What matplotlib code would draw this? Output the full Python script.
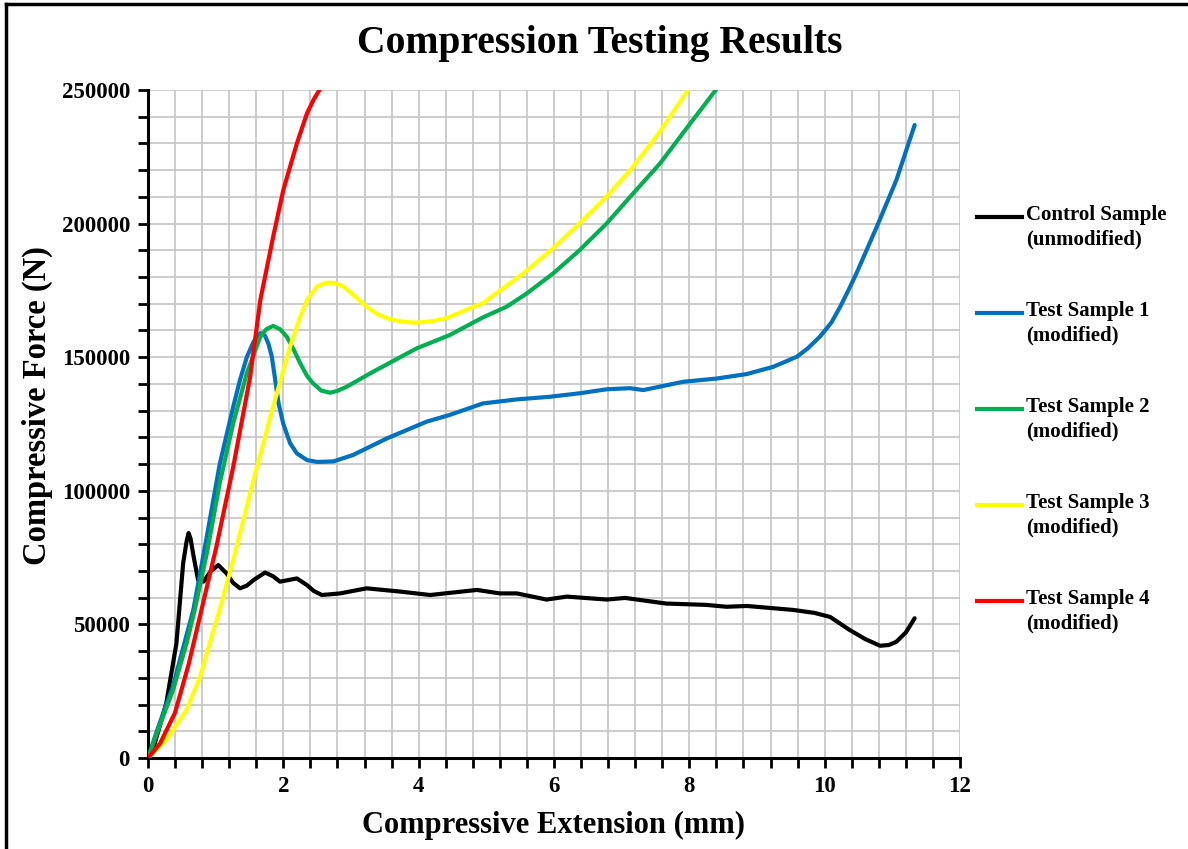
import numpy as np
import matplotlib
matplotlib.use("Agg")
from matplotlib import pyplot as plt
from matplotlib.lines import Line2D
from matplotlib.ticker import MultipleLocator

plt.rcParams['font.family'] = ['Liberation Serif', 'DejaVu Serif']
plt.rcParams['font.weight'] = 'bold'

control_x = [0, 0.1, 0.27, 0.42, 0.52, 0.57, 0.6, 0.63, 0.67, 0.74, 0.82, 0.93, 1.04, 1.16,
             1.26, 1.36, 1.46, 1.56, 1.73, 1.85, 1.95, 2.2, 2.35, 2.45, 2.57, 2.84, 3.23,
             3.72, 4.17, 4.86, 5.2, 5.45, 5.89, 6.19, 6.78, 7.05, 7.66, 8.25, 8.55, 8.85,
             9.54, 9.85, 10.08, 10.37, 10.6, 10.82, 10.95, 11.06, 11.2, 11.33]
control_y = [0, 5.5, 20.5, 42.9, 73, 81, 84.2, 82, 76, 66.6, 66, 70, 72.2, 69.1,
             65.5, 63.5, 64.5, 66.6, 69.4, 68, 66, 67.2, 64.7, 62.5, 61, 61.6, 63.5,
             62.3, 61, 62.9, 61.6, 61.6, 59.3, 60.4, 59.3, 59.9, 57.8, 57.3, 56.6, 56.9,
             55.4, 54.3, 52.8, 47.9, 44.5, 42, 42.3, 43.5, 47, 52.3]

s1_x = [0, 0.13, 0.37, 0.57, 0.67, 0.87, 1.06, 1.26, 1.36, 1.46, 1.56, 1.66, 1.73, 1.78,
        1.83, 1.88, 1.93, 2.0, 2.1, 2.2, 2.35, 2.5, 2.74, 3.03, 3.53, 4.12, 4.46, 4.95,
        5.45, 5.94, 6.38, 6.78, 7.12, 7.32, 7.91, 8.4, 8.85, 9.24, 9.59, 9.75, 9.93, 10.1,
        10.23, 10.35, 10.47, 10.77, 11.06, 11.33]
s1_y = [0, 10, 27, 46, 55.4, 83, 110, 131.5, 141.5, 150, 155.8, 159, 158, 155,
        150.2, 141.5, 132.7, 125, 117.8, 114, 111.5, 110.8, 111, 113.4, 119.6, 125.9, 128.4, 132.7,
        134.2, 135.2, 136.5, 138, 138.4, 137.7, 140.8, 142, 143.7, 146.4, 150.2, 153.3, 157.7, 163,
        168.9, 175, 181.4, 198.8, 216.3, 236.9]

s2_x = [0, 0.13, 0.37, 0.57, 0.69, 0.87, 1.06, 1.26, 1.46, 1.66, 1.75, 1.85, 1.95, 2.05,
        2.15, 2.25, 2.35, 2.44, 2.56, 2.69, 2.8, 2.94, 3.33, 3.97, 4.46, 4.95, 5.3, 5.6,
        5.99, 6.38, 6.78, 7.17, 7.57, 7.96, 8.4]
s2_y = [0, 9.2, 25.4, 42.9, 55.4, 76.6, 102.8, 125.3, 144, 157.7, 160.5, 161.7, 160.5, 157.7,
        153, 147.7, 143, 140.2, 137.5, 136.7, 137.4, 139, 144.6, 153.3, 158.3, 164.9, 168.9, 173.9,
        181.4, 190.1, 200.1, 211.3, 222.6, 235.7, 250.3]

s3_x = [0, 0.27, 0.57, 0.77, 0.97, 1.06, 1.26, 1.56, 1.85, 2.1, 2.25, 2.35, 2.5, 2.64,
        2.76, 2.89, 3.05, 3.23, 3.4, 3.58, 3.78, 3.97, 4.2, 4.41, 4.76, 4.95, 5.55, 5.99,
        6.38, 6.78, 7.17, 7.57, 7.98]
s3_y = [0, 6.7, 18, 30.4, 47.9, 55.4, 74.1, 104, 131.5, 154, 165, 171.4, 176.5, 177.9,
        177.8, 176.4, 173, 168.9, 166, 164.2, 163.2, 162.9, 163.5, 164.6, 168.3, 170.2, 181.4, 190.8,
        200.1, 210.1, 221.3, 234.5, 250]

s4_x = [0, 0.18, 0.4, 0.6, 0.79, 1.01, 1.26, 1.51, 1.66, 1.85, 2.0, 2.2, 2.35, 2.45, 2.54]
s4_y = [0, 5.5, 17, 35, 55.4, 79, 109, 142.7, 171.4, 195.1, 212.6, 230, 241.3, 246.5, 250.3]

labels = ["Control Sample\n(unmodified)", "Test Sample 1\n(modified)", "Test Sample 2\n(modified)",
          "Test Sample 3\n(modified)", "Test Sample 4\n(modified)"]
colors = ["black", "#0070C0", "#00B050", "#FFFF00", "#FF0000"]

W, H = 1188, 849
fig = plt.figure(figsize=(W / 100, H / 100), dpi=100)
ax = fig.add_axes([148 / W, 1 - 758 / H, 812 / W, 668 / H])

series = [(control_x, control_y), (s1_x, s1_y), (s2_x, s2_y), (s3_x, s3_y), (s4_x, s4_y)]
for (xs, ys), c in zip(series, colors):
    ax.plot(xs, np.array(ys) * 1000, color=c, lw=3, solid_joinstyle='round',
            solid_capstyle='round', zorder=3)

ax.set_xlim(0, 12)
ax.set_ylim(0, 250000)
ax.xaxis.set_major_locator(MultipleLocator(2))
ax.xaxis.set_minor_locator(MultipleLocator(0.4))
ax.yaxis.set_major_locator(MultipleLocator(50000))
ax.yaxis.set_minor_locator(MultipleLocator(10000))
ax.grid(which='both', color='#c4c4c4', lw=1.2, zorder=0)
ax.set_axisbelow(True)
for s in ['top', 'right']:
    ax.spines[s].set_visible(False)
for s in ['left', 'bottom']:
    ax.spines[s].set_linewidth(2.2)
ax.tick_params(which='both', direction='out', length=7, width=2, color='black')
ax.tick_params(axis='both', labelsize=16.5, pad=6)
for t in ax.get_xticklabels() + ax.get_yticklabels():
    t.set_fontweight('bold')

ax.set_xlabel("Compressive Extension (mm)", fontsize=22, fontweight='bold', labelpad=10)
ax.set_ylabel("Compressive Force (N)", fontsize=23.5, fontweight='bold', labelpad=10)
ax.yaxis.set_label_coords(-0.117, (758 - 406) / 668)
fig.text(600 / W, 1 - 44 / H, "Compression Testing Results", fontsize=28.5, fontweight='bold',
         ha='center', va='center')

# legend drawn by hand so the line sits at the first text row
for i, (lab, c) in enumerate(zip(labels, colors)):
    yp = 217 + 96 * i
    fig.add_artist(Line2D([977 / W, 1022 / W], [1 - yp / H] * 2, color=c, lw=3))
    fig.text(1026 / W, 1 - (yp - 12) / H, lab, fontsize=15, fontweight='bold',
             ha='left', va='top', linespacing=1.3)

# outer frame (only left and top edges show)
fig.add_artist(Line2D([6 / W, 6 / W], [0, 1 - 4 / H], color='black', lw=2.5))
fig.add_artist(Line2D([6 / W, 1], [1 - 4 / H, 1 - 4 / H], color='black', lw=2.5))

fig.savefig("out.png", dpi=100)
